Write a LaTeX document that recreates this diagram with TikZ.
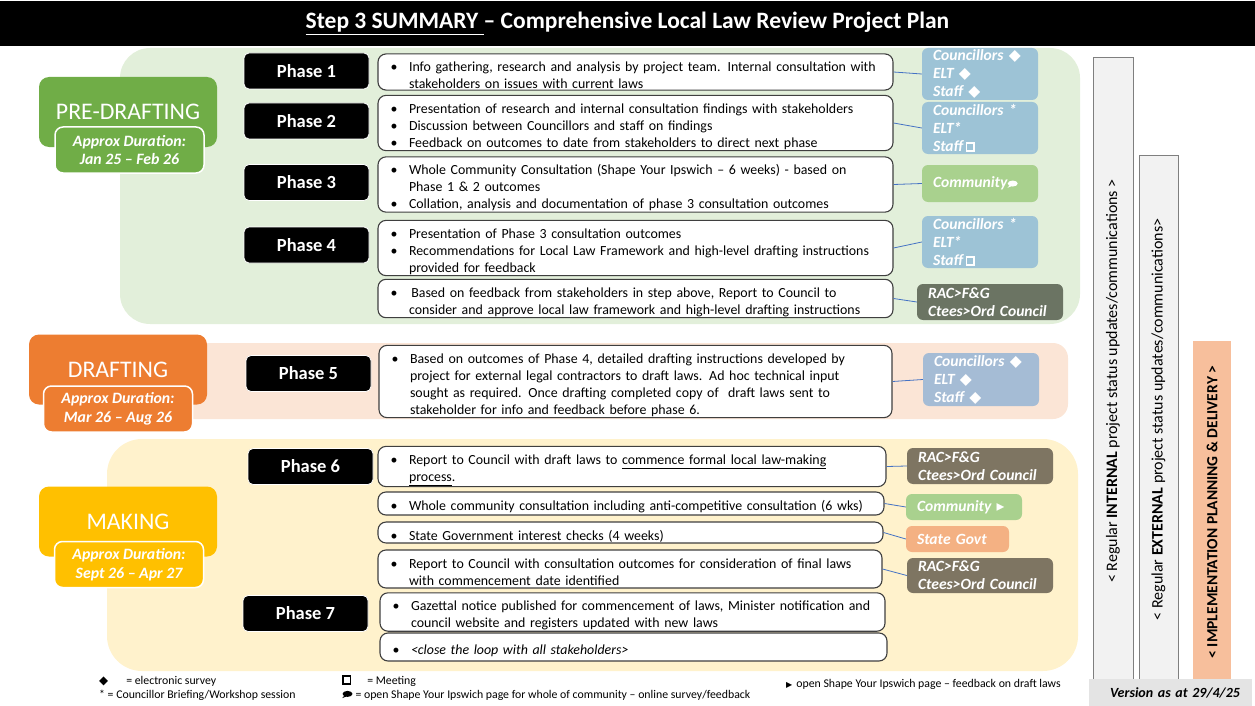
\documentclass[tikz,border=0pt]{standalone}
\usepackage{fontspec}
\setmainfont{Carlito}
\newfontfamily\symfont{DejaVu Sans}

\definecolor{predrbg}{HTML}{E2EFDA}
\definecolor{predr}{HTML}{70AD47}
\definecolor{draftbg}{HTML}{FBE5D6}
\definecolor{draft}{HTML}{ED7D31}
\definecolor{makebg}{HTML}{FFF2CC}
\definecolor{make}{HTML}{FFC000}
\definecolor{stake}{HTML}{9DC3D6}
\definecolor{stakeb}{HTML}{A5BCD5}
\definecolor{commu}{HTML}{A9D18E}
\definecolor{racg}{HTML}{6B7463}
\definecolor{racb}{HTML}{7E7562}
\definecolor{govt}{HTML}{F4B183}
\definecolor{impl}{HTML}{F7BF9C}
\definecolor{barfill}{HTML}{F2F2F2}
\definecolor{barline}{HTML}{7F7F7F}
\definecolor{vers}{HTML}{E4E4E4}
\definecolor{boxline}{HTML}{3F3F3F}
\definecolor{link}{HTML}{4472C4}

\newcommand{\bodyfont}{\fontsize{13.9}{17}\selectfont}
\newenvironment{steps}{\begin{list}{\textbullet}{\setlength\leftmargin{22pt}\setlength\labelwidth{10.5pt}%
  \setlength\labelsep{11.5pt}\setlength\topsep{0pt}\setlength\partopsep{0pt}%
  \setlength\itemsep{0pt}\setlength\parsep{0pt}\setlength\parskip{0pt}}}{\end{list}}
\newcommand{\esurv}{{\symfont ◆}}
\newcommand{\meet}[1][white]{\tikz[baseline=0pt]\draw[sharp corners,line width=1.6pt,#1] (0pt,0.8pt) rectangle (7.5pt,8.3pt);}
\newcommand{\bubble}[1][white]{\tikz[baseline=0pt]{\fill[#1] (5pt,4.2pt) ellipse [x radius=5pt, y radius=3pt]; \fill[#1,sharp corners] (2pt,2.5pt) -- (-0.3pt,0pt) -- (4pt,1.6pt) -- cycle;}}

\begin{document}
\begin{tikzpicture}[x=1pt,y=-1pt,
  phase/.style={fill=black,draw=white,line width=0.8pt,rounded corners=5pt,text=white,
    font=\bfseries\fontsize{18.5}{20}\selectfont,minimum width=125pt,minimum height=36pt,inner sep=0pt},
  tbox/.style={fill=white,draw=boxline,line width=1.1pt,rounded corners=8pt,
    inner xsep=9pt,inner ysep=1pt,text width=#1,align=left,font=\bodyfont},
  sbox/.style={rounded corners=6pt,inner xsep=11pt,inner ysep=0pt,text=white,align=left,
    font=\bfseries\itshape\fontsize{15.6}{18}\selectfont},
  hdr/.style={rounded corners=10pt,minimum width=178pt,minimum height=70pt,text=white,
    font=\fontsize{23.8}{26}\selectfont},
  dur/.style={rounded corners=8pt,draw=white,line width=1.5pt,minimum width=149pt,minimum height=46pt,
    inner sep=0pt,text=white,align=center,font=\bfseries\itshape\fontsize{15.8}{18.5}\selectfont},
  vbar/.style={fill=barfill,draw=barline,line width=1pt,rotate=90,font=\fontsize{16}{17}\selectfont},
  link/.style={draw=link,line width=0.8pt},
  legend/.style={anchor=west,inner sep=0pt,font=\fontsize{11.8}{13}\selectfont}]
\useasboundingbox (0,0) rectangle (1255,706);

% stage panels
\fill[predrbg, rounded corners=30pt] (120,48) rectangle (1080,324);
\fill[draftbg, rounded corners=15pt] (150,343) rectangle (1068,419);
\fill[makebg, rounded corners=35pt] (107,439) rectangle (1078,671);

\node[fill=black, minimum width=1255pt, minimum height=45pt, text=white,
  font=\bfseries\fontsize{23.5}{26}\selectfont] (title) at (627.5,23.5)
  {\underline{Step 3 SUMMARY }– Comprehensive Local Law Review Project Plan};

% side bars
\node[vbar, minimum width=621pt, minimum height=40pt] (intbar) at (1113,368.5)
  {< Regular \textbf{INTERNAL} project status updates/communications >\kern25pt};
\node[vbar, minimum width=524pt, minimum height=39pt] (extbar) at (1158.5,417)
  {< Regular \textbf{EXTERNAL} project status updates/communications>\kern5pt};
\node[vbar, fill=impl, draw=none, minimum width=342pt, minimum height=38pt,
  font=\bfseries\fontsize{15.5}{17}\selectfont] (implbar) at (1212,512)
  {< IMPLEMENTATION PLANNING \& DELIVERY >};
\node[fill=vers, text width=139pt, inner xsep=12pt, minimum height=27pt, align=right,
  font=\bfseries\itshape\fontsize{14}{16}\selectfont] (version) at (1170.5,692.5) {Version as at 29/4/25};

% stage headers
\node[hdr, fill=predr] (predr) at (128,112) {PRE-DRAFTING};
\node[dur, fill=predr] (predrdur) at (129.5,150) {Approx Duration:\\Jan 25 – Feb 26};
\node[hdr, fill=draft] (draft) at (118,369.5) {DRAFTING};
\node[dur, fill=draft] (draftdur) at (118,409) {Approx Duration:\\Mar 26 – Aug 26};
\node[hdr, fill=make] (make) at (128,521.5) {MAKING};
\node[dur, fill=make] (makedur) at (129,564.5) {Approx Duration:\\Sept 26 – Apr 27};

% phases
\node[phase] (ph1) at (306.5,71) {Phase 1};
\node[phase] (ph2) at (306.5,121) {Phase 2};
\node[phase] (ph3) at (306.5,182.5) {Phase 3};
\node[phase] (ph4) at (306.5,245) {Phase 4};
\node[phase] (ph5) at (308.5,373.5) {Phase 5};
\node[phase] (ph6) at (310.5,466.5) {Phase 6};
\node[phase] (ph7) at (305.5,613.5) {Phase 7};

% pre-drafting steps
\node[tbox=497pt, minimum height=36pt] (t1) at (635.5,72)
  {\begin{steps}\item Info gathering, research and analysis by project team. Internal consultation with\newline stakeholders on issues with current laws\end{steps}};
\node[tbox=497pt, minimum height=54pt] (t2) at (635.5,123)
  {\begin{steps}\item Presentation of research and internal consultation findings with stakeholders
   \item Discussion between Councillors and staff on findings
   \item Feedback on outcomes to date from stakeholders to direct next phase\end{steps}};
\node[tbox=497pt, minimum height=55pt] (t3) at (635.5,184.5)
  {\begin{steps}\item Whole Community Consultation (Shape Your Ipswich – 6 weeks) - based on\newline Phase 1 \& 2 outcomes
   \item Collation, analysis and documentation of phase 3 consultation outcomes\end{steps}};
\node[tbox=497pt, minimum height=50pt] (t4) at (635.5,248)
  {\begin{steps}\item Presentation of Phase 3 consultation outcomes
   \item Recommendations for Local Law Framework and high-level drafting instructions\newline provided for feedback\end{steps}};
\node[tbox=497pt, minimum height=37pt] (t5) at (635.5,298.5)
  {\begin{steps}\item \,Based on feedback from stakeholders in step above, Report to Council to\newline consider and approve local law framework and high-level drafting instructions\end{steps}};

% drafting step
\node[tbox=495pt, minimum height=71pt] (t6) at (635.5,381.5)
  {\begin{steps}\item Based on outcomes of Phase 4, detailed drafting instructions developed by\newline project for external legal contractors to draft laws. Ad hoc technical input\newline sought as required. Once drafting completed copy of~ draft laws sent to\newline stakeholder for info and feedback before phase 6.\end{steps}};

% making steps
\node[tbox=490pt, minimum height=39pt] (m1) at (632,466.5)
  {\begin{steps}\item Report to Council with draft laws to \underline{commence formal local law-making}\newline\underline{process}.\end{steps}};
\node[tbox=488pt, minimum height=23pt] (m2) at (631,503.5)
  {\begin{steps}\item Whole community consultation including anti-competitive consultation (6 wks)\end{steps}};
\node[tbox=487pt, minimum height=17pt] (m3) at (630.5,532.5)
  {\begin{steps}\item State Government interest checks (4 weeks)\end{steps}};
\node[tbox=486pt, minimum height=38pt] (m4) at (630,569)
  {\begin{steps}\item Report to Council with consultation outcomes for consideration of final laws\newline with commencement date identified\end{steps}};
\node[tbox=487pt, minimum height=38pt] (m5) at (632.5,612)
  {\begin{steps}\item Gazettal notice published for commencement of laws, Minister notification and\newline council website and registers updated with new laws\end{steps}};
\node[tbox=489pt, minimum height=28pt] (m6) at (633.5,647)
  {\begin{steps}\item \textit{<close the loop with all stakeholders>}\end{steps}};

% stakeholders
\node[sbox, fill=stake, text width=94pt, minimum height=52pt] (st1) at (980,74) {Councillors \esurv\\ELT \esurv\\Staff \esurv};
\node[sbox, fill=stake, text width=94pt, minimum height=52pt] (st2) at (980,128) {Councillors *\\ELT*\\Staff\,\meet};
\node[sbox, fill=commu, text width=94pt, minimum height=37pt] (st3) at (980,183.5) {Community\bubble};
\node[sbox, fill=stake, text width=94pt, minimum height=52pt] (st4) at (980,242) {Councillors *\\ELT*\\Staff\,\meet};
\node[sbox, fill=racg, text width=124pt, minimum height=36pt] (st5) at (990,302) {RAC>F\&G\\Ctees>Ord Council};
\node[sbox, fill=stakeb, text width=94pt, minimum height=53pt] (st6) at (981,379.5) {Councillors \esurv\\ELT \esurv\\Staff \esurv};
\node[sbox, fill=racb, text width=124pt, minimum height=36pt] (sm1) at (980,466) {RAC>F\&G\\Ctees>Ord Council};
\node[sbox, fill=commu, text width=94pt, minimum height=26pt] (sm2) at (964,507) {Community {\symfont ▸}};
\node[sbox, fill=govt, text width=81pt, minimum height=26pt] (sm3) at (957.5,539) {State Govt};
\node[sbox, fill=racb, text width=124pt, minimum height=35pt] (sm4) at (980,575.5) {RAC>F\&G\\Ctees>Ord Council};

% links
\draw[link] (t1.east) -- (st1.west);
\draw[link] (t2.east) -- (st2.west);
\draw[link] (t3.east) -- (st3.west);
\draw[link] (t4.east) -- (st4.west);
\draw[link] (t5.east) -- (st5.west);
\draw[link] (t6.east) -- (st6.west);
\draw[link] (m1.east) -- (sm1.west);
\draw[link] (m2.east) -- (sm2.west);
\draw[link] (m3.east) -- (sm3.west);
\draw[link] (m4.east) -- (sm4.west);

% legend
\node[legend] (lg1) at (99,681) {{\symfont ◆}\hspace{18pt}= electronic survey};
\node[legend] (lg2) at (99,695) {* = Councillor Briefing/Workshop session};
\node[legend] (lg3) at (342,681) {\meet[black]\hspace{16pt}= Meeting};
\node[legend] (lg4) at (342,695) {\bubble[black]\hspace{3pt}= open Shape Your Ipswich page for whole of community – online survey/feedback};
\node[legend] (lg5) at (786,684) {{\symfont\fontsize{8}{10}\selectfont ▶}\hspace{4pt}open Shape Your Ipswich page – feedback on draft laws};
\end{tikzpicture}
\end{document}
